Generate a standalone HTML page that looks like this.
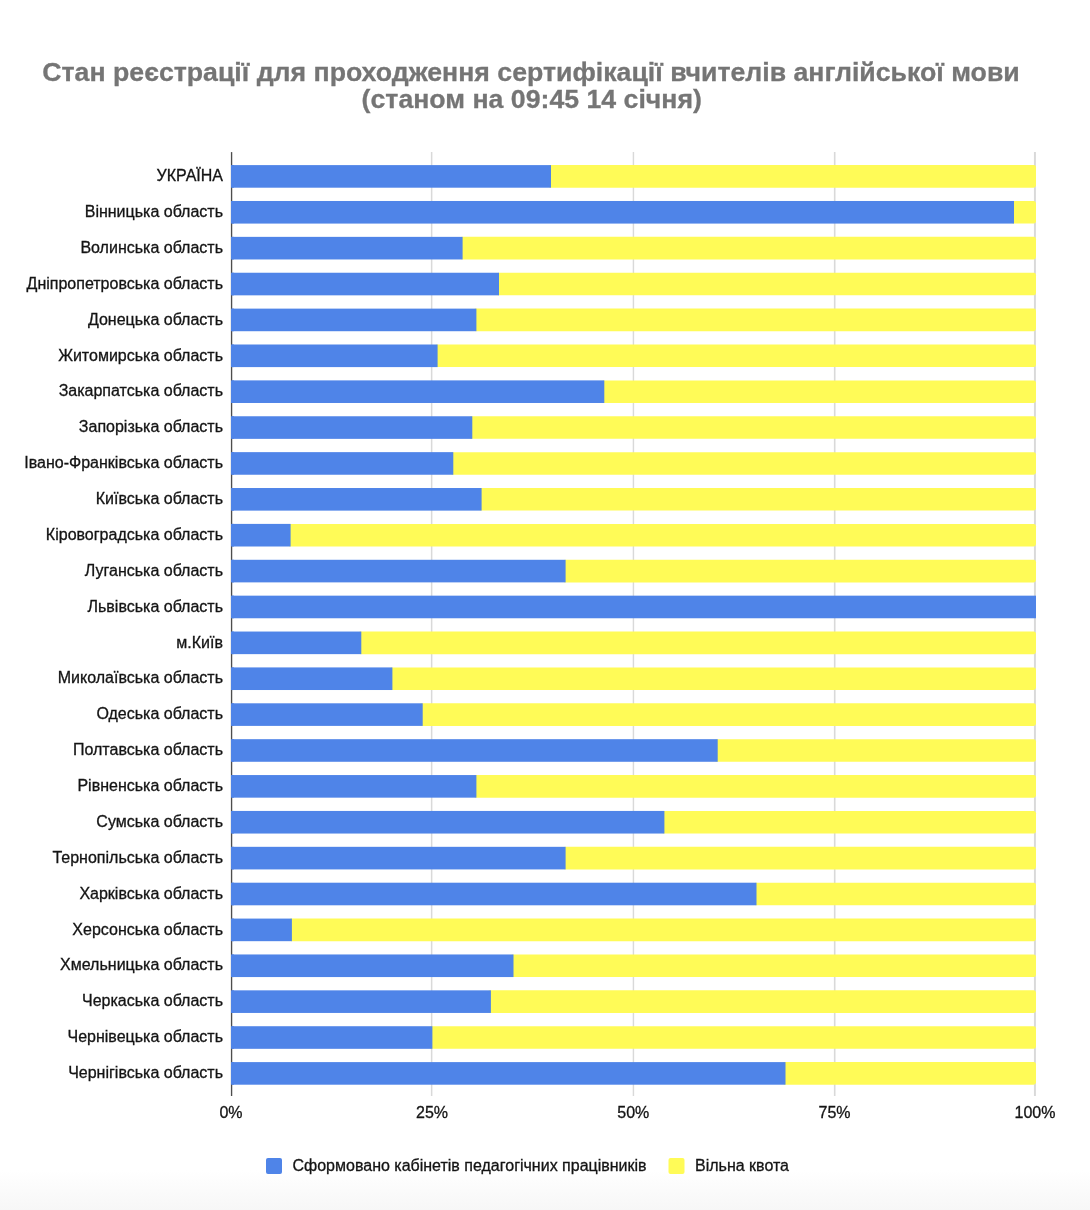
<!DOCTYPE html>
<html lang="uk"><head><meta charset="utf-8"><title>Стан реєстрації</title>
<style>
html,body{margin:0;padding:0;background:#fff;}
body{width:1090px;height:1210px;overflow:hidden;position:relative;font-family:"Liberation Sans",sans-serif;}
svg{position:absolute;left:0;top:0;display:block;}
text{font-family:"Liberation Sans",sans-serif;}
.t{font-weight:bold;fill:#757575;font-size:26.7px;stroke:#757575;stroke-width:0.3px;}
.l{fill:#141414;font-size:16px;stroke:#141414;stroke-width:0.3px;}
</style></head><body>
<svg width="1090" height="1210" viewBox="0 0 1090 1210">
<defs><linearGradient id="g" x1="0" y1="0" x2="0" y2="1"><stop offset="0" stop-color="#ffffff"/><stop offset="1" stop-color="#f7f7f7"/></linearGradient></defs>
<rect x="0" y="0" width="1090" height="1210" fill="#ffffff"/>
<rect x="0" y="1170" width="1090" height="40" fill="url(#g)"/>
<text class="t" x="531" y="80.5" text-anchor="middle">Стан реєстрації для проходження сертифікації вчителів англійської мови</text>
<text class="t" x="531.75" y="108" text-anchor="middle">(станом на 09:45 14 січня)</text>
<rect x="430.90" y="152" width="1.50" height="944" fill="#d9d9d9"/>
<rect x="632.70" y="152" width="1.45" height="944" fill="#d9d9d9"/>
<rect x="833.90" y="152" width="1.60" height="944" fill="#d9d9d9"/>
<rect x="1033.95" y="152" width="1.95" height="944" fill="#d9d9d9"/>
<rect x="548.0" y="165.10" width="488.0" height="22.60" rx="2.4" fill="#fffb57"/>
<rect x="231.0" y="165.10" width="320.0" height="22.60" fill="#4f84e8"/>
<text class="l" x="223" y="181.10" text-anchor="end">УКРАЇНА</text>
<rect x="1011.0" y="200.98" width="25.0" height="22.60" rx="2.4" fill="#fffb57"/>
<rect x="231.0" y="200.98" width="783.0" height="22.60" fill="#4f84e8"/>
<text class="l" x="223" y="216.98" text-anchor="end">Вінницька область</text>
<rect x="459.6" y="236.86" width="576.4" height="22.60" rx="2.4" fill="#fffb57"/>
<rect x="231.0" y="236.86" width="231.6" height="22.60" fill="#4f84e8"/>
<text class="l" x="223" y="252.86" text-anchor="end">Волинська область</text>
<rect x="496.0" y="272.74" width="540.0" height="22.60" rx="2.4" fill="#fffb57"/>
<rect x="231.0" y="272.74" width="268.0" height="22.60" fill="#4f84e8"/>
<text class="l" x="223" y="288.74" text-anchor="end">Дніпропетровська область</text>
<rect x="473.4" y="308.62" width="562.6" height="22.60" rx="2.4" fill="#fffb57"/>
<rect x="231.0" y="308.62" width="245.4" height="22.60" fill="#4f84e8"/>
<text class="l" x="223" y="324.62" text-anchor="end">Донецька область</text>
<rect x="434.6" y="344.50" width="601.4" height="22.60" rx="2.4" fill="#fffb57"/>
<rect x="231.0" y="344.50" width="206.6" height="22.60" fill="#4f84e8"/>
<text class="l" x="223" y="360.50" text-anchor="end">Житомирська область</text>
<rect x="601.3" y="380.38" width="434.7" height="22.60" rx="2.4" fill="#fffb57"/>
<rect x="231.0" y="380.38" width="373.3" height="22.60" fill="#4f84e8"/>
<text class="l" x="223" y="396.38" text-anchor="end">Закарпатська область</text>
<rect x="469.3" y="416.26" width="566.7" height="22.60" rx="2.4" fill="#fffb57"/>
<rect x="231.0" y="416.26" width="241.3" height="22.60" fill="#4f84e8"/>
<text class="l" x="223" y="432.26" text-anchor="end">Запорізька область</text>
<rect x="450.3" y="452.14" width="585.7" height="22.60" rx="2.4" fill="#fffb57"/>
<rect x="231.0" y="452.14" width="222.3" height="22.60" fill="#4f84e8"/>
<text class="l" x="223" y="468.14" text-anchor="end">Івано-Франківська область</text>
<rect x="478.6" y="488.02" width="557.4" height="22.60" rx="2.4" fill="#fffb57"/>
<rect x="231.0" y="488.02" width="250.6" height="22.60" fill="#4f84e8"/>
<text class="l" x="223" y="504.02" text-anchor="end">Київська область</text>
<rect x="287.6" y="523.90" width="748.4" height="22.60" rx="2.4" fill="#fffb57"/>
<rect x="231.0" y="523.90" width="59.6" height="22.60" fill="#4f84e8"/>
<text class="l" x="223" y="539.90" text-anchor="end">Кіровоградська область</text>
<rect x="562.6" y="559.78" width="473.4" height="22.60" rx="2.4" fill="#fffb57"/>
<rect x="231.0" y="559.78" width="334.6" height="22.60" fill="#4f84e8"/>
<text class="l" x="223" y="575.78" text-anchor="end">Луганська область</text>
<rect x="231.0" y="595.66" width="805.0" height="22.60" fill="#4f84e8"/>
<text class="l" x="223" y="611.66" text-anchor="end">Львівська область</text>
<rect x="358.3" y="631.54" width="677.7" height="22.60" rx="2.4" fill="#fffb57"/>
<rect x="231.0" y="631.54" width="130.3" height="22.60" fill="#4f84e8"/>
<text class="l" x="223" y="647.54" text-anchor="end">м.Київ</text>
<rect x="389.4" y="667.42" width="646.6" height="22.60" rx="2.4" fill="#fffb57"/>
<rect x="231.0" y="667.42" width="161.4" height="22.60" fill="#4f84e8"/>
<text class="l" x="223" y="683.42" text-anchor="end">Миколаївська область</text>
<rect x="419.7" y="703.30" width="616.3" height="22.60" rx="2.4" fill="#fffb57"/>
<rect x="231.0" y="703.30" width="191.7" height="22.60" fill="#4f84e8"/>
<text class="l" x="223" y="719.30" text-anchor="end">Одеська область</text>
<rect x="714.7" y="739.18" width="321.3" height="22.60" rx="2.4" fill="#fffb57"/>
<rect x="231.0" y="739.18" width="486.7" height="22.60" fill="#4f84e8"/>
<text class="l" x="223" y="755.18" text-anchor="end">Полтавська область</text>
<rect x="473.4" y="775.06" width="562.6" height="22.60" rx="2.4" fill="#fffb57"/>
<rect x="231.0" y="775.06" width="245.4" height="22.60" fill="#4f84e8"/>
<text class="l" x="223" y="791.06" text-anchor="end">Рівненська область</text>
<rect x="661.4" y="810.94" width="374.6" height="22.60" rx="2.4" fill="#fffb57"/>
<rect x="231.0" y="810.94" width="433.4" height="22.60" fill="#4f84e8"/>
<text class="l" x="223" y="826.94" text-anchor="end">Сумська область</text>
<rect x="562.6" y="846.82" width="473.4" height="22.60" rx="2.4" fill="#fffb57"/>
<rect x="231.0" y="846.82" width="334.6" height="22.60" fill="#4f84e8"/>
<text class="l" x="223" y="862.82" text-anchor="end">Тернопільська область</text>
<rect x="753.5" y="882.70" width="282.5" height="22.60" rx="2.4" fill="#fffb57"/>
<rect x="231.0" y="882.70" width="525.5" height="22.60" fill="#4f84e8"/>
<text class="l" x="223" y="898.70" text-anchor="end">Харківська область</text>
<rect x="288.9" y="918.58" width="747.1" height="22.60" rx="2.4" fill="#fffb57"/>
<rect x="231.0" y="918.58" width="60.9" height="22.60" fill="#4f84e8"/>
<text class="l" x="223" y="934.58" text-anchor="end">Херсонська область</text>
<rect x="510.5" y="954.46" width="525.5" height="22.60" rx="2.4" fill="#fffb57"/>
<rect x="231.0" y="954.46" width="282.5" height="22.60" fill="#4f84e8"/>
<text class="l" x="223" y="970.46" text-anchor="end">Хмельницька область</text>
<rect x="487.9" y="990.34" width="548.1" height="22.60" rx="2.4" fill="#fffb57"/>
<rect x="231.0" y="990.34" width="259.9" height="22.60" fill="#4f84e8"/>
<text class="l" x="223" y="1006.34" text-anchor="end">Черкаська область</text>
<rect x="429.4" y="1026.22" width="606.6" height="22.60" rx="2.4" fill="#fffb57"/>
<rect x="231.0" y="1026.22" width="201.4" height="22.60" fill="#4f84e8"/>
<text class="l" x="223" y="1042.22" text-anchor="end">Чернівецька область</text>
<rect x="782.5" y="1062.10" width="253.5" height="22.60" rx="2.4" fill="#fffb57"/>
<rect x="231.0" y="1062.10" width="554.5" height="22.60" fill="#4f84e8"/>
<text class="l" x="223" y="1078.10" text-anchor="end">Чернігівська область</text>
<rect x="230.9" y="152.1" width="1.35" height="943.9" fill="#4d4d4d"/>
<rect x="231.0" y="165.10" width="3" height="22.60" fill="#4f84e8"/>
<rect x="231.0" y="200.98" width="3" height="22.60" fill="#4f84e8"/>
<rect x="231.0" y="236.86" width="3" height="22.60" fill="#4f84e8"/>
<rect x="231.0" y="272.74" width="3" height="22.60" fill="#4f84e8"/>
<rect x="231.0" y="308.62" width="3" height="22.60" fill="#4f84e8"/>
<rect x="231.0" y="344.50" width="3" height="22.60" fill="#4f84e8"/>
<rect x="231.0" y="380.38" width="3" height="22.60" fill="#4f84e8"/>
<rect x="231.0" y="416.26" width="3" height="22.60" fill="#4f84e8"/>
<rect x="231.0" y="452.14" width="3" height="22.60" fill="#4f84e8"/>
<rect x="231.0" y="488.02" width="3" height="22.60" fill="#4f84e8"/>
<rect x="231.0" y="523.90" width="3" height="22.60" fill="#4f84e8"/>
<rect x="231.0" y="559.78" width="3" height="22.60" fill="#4f84e8"/>
<rect x="231.0" y="595.66" width="3" height="22.60" fill="#4f84e8"/>
<rect x="231.0" y="631.54" width="3" height="22.60" fill="#4f84e8"/>
<rect x="231.0" y="667.42" width="3" height="22.60" fill="#4f84e8"/>
<rect x="231.0" y="703.30" width="3" height="22.60" fill="#4f84e8"/>
<rect x="231.0" y="739.18" width="3" height="22.60" fill="#4f84e8"/>
<rect x="231.0" y="775.06" width="3" height="22.60" fill="#4f84e8"/>
<rect x="231.0" y="810.94" width="3" height="22.60" fill="#4f84e8"/>
<rect x="231.0" y="846.82" width="3" height="22.60" fill="#4f84e8"/>
<rect x="231.0" y="882.70" width="3" height="22.60" fill="#4f84e8"/>
<rect x="231.0" y="918.58" width="3" height="22.60" fill="#4f84e8"/>
<rect x="231.0" y="954.46" width="3" height="22.60" fill="#4f84e8"/>
<rect x="231.0" y="990.34" width="3" height="22.60" fill="#4f84e8"/>
<rect x="231.0" y="1026.22" width="3" height="22.60" fill="#4f84e8"/>
<rect x="231.0" y="1062.10" width="3" height="22.60" fill="#4f84e8"/>
<text class="l" x="231.00" y="1118.3" text-anchor="middle">0%</text>
<text class="l" x="432.00" y="1118.3" text-anchor="middle">25%</text>
<text class="l" x="633.25" y="1118.3" text-anchor="middle">50%</text>
<text class="l" x="834.50" y="1118.3" text-anchor="middle">75%</text>
<text class="l" x="1035.00" y="1118.3" text-anchor="middle">100%</text>
<rect x="266" y="1158" width="16" height="16" rx="2" fill="#4f84e8"/>
<text class="l" x="292.5" y="1171">Сформовано кабінетів педагогічних працівників</text>
<rect x="668.5" y="1158" width="16" height="16" rx="2" fill="#fffb57"/>
<text class="l" x="695" y="1171">Вільна квота</text>
</svg>
</body></html>
